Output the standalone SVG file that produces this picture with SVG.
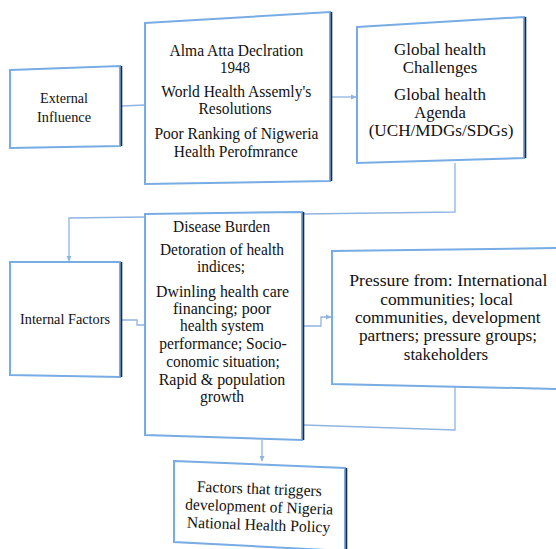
<svg xmlns="http://www.w3.org/2000/svg" width="556" height="549" viewBox="0 0 556 549">
<style>
.box{fill:#fff;stroke:#78ace4;stroke-width:2;stroke-linejoin:miter}
.sh{stroke:#1c2a3c;stroke-width:1.6;fill:none}
.conn{fill:none;stroke:#8fb4e2;stroke-width:1.3}
.t text{font-family:'Liberation Serif','DejaVu Serif',serif;font-size:16px;text-anchor:middle;fill:#111}
.t .s{font-size:15px}
.t .l{font-size:16px}
</style>
<defs>
<marker id="arr" markerUnits="userSpaceOnUse" markerWidth="6" markerHeight="6" refX="5" refY="3" orient="auto">
<path d="M0,0.5 L5.5,3 L0,5.5 z" fill="#8fb4e2"/>
</marker>
</defs>
<rect width="556" height="549" fill="#fff"/>
<g id="connectors">
<path class="conn" d="M121,106 L145,105"/>
<path class="conn" d="M331,97 L356,97" marker-end="url(#arr)"/>
<path class="conn" d="M455,163 V212 L302,214"/>
<path class="conn" d="M145,217 L69,218 V261" marker-end="url(#arr)"/>
<path class="conn" d="M121,320 H137 V325 H145"/>
<path class="conn" d="M303,326 H321 V317 H331" marker-end="url(#arr)"/>
<path class="conn" d="M455,387 V430 L304,425"/>
<path class="conn" d="M262,440 V461" marker-end="url(#arr)"/>
</g>
<g id="external" class="t">
<polygon class="box" points="10,70 120,66 120,146 10,148"/>
<line class="sh" x1="121.5" y1="66" x2="121.5" y2="146"/>
<text class="s" x="64" y="103" textLength="48" lengthAdjust="spacingAndGlyphs">External</text>
<text class="s" x="64" y="122" textLength="54" lengthAdjust="spacingAndGlyphs">Influence</text>
</g>
<g id="alma" class="t">
<polygon class="box" points="145,23 330,12 330,181 145,184"/>
<line class="sh" x1="331.5" y1="12" x2="331.5" y2="181"/>
<text x="236.4" y="56" textLength="133.7" lengthAdjust="spacingAndGlyphs">Alma Atta Declration</text>
<text x="235" y="73" textLength="30" lengthAdjust="spacingAndGlyphs">1948</text>
<text x="236.3" y="97" textLength="150" lengthAdjust="spacingAndGlyphs">World Health Assemly's</text>
<text x="235" y="114" textLength="73" lengthAdjust="spacingAndGlyphs">Resolutions</text>
<text x="236.4" y="139" textLength="164" lengthAdjust="spacingAndGlyphs">Poor Ranking of Nigweria</text>
<text x="235.8" y="157" textLength="124" lengthAdjust="spacingAndGlyphs">Health Perofmrance</text>
</g>
<g id="global" class="t">
<polygon class="box" points="357,27 524,17 524,158 357,163"/>
<line class="sh" x1="525.5" y1="17" x2="525.5" y2="158"/>
<text class="l" x="440" y="55" textLength="92" lengthAdjust="spacingAndGlyphs">Global health</text>
<text class="l" x="440" y="73" textLength="74.5" lengthAdjust="spacingAndGlyphs">Challenges</text>
<text class="l" x="440" y="100" textLength="92" lengthAdjust="spacingAndGlyphs">Global health</text>
<text class="l" x="440" y="118" textLength="51.5" lengthAdjust="spacingAndGlyphs">Agenda</text>
<text class="l" x="441" y="136" textLength="144.7" lengthAdjust="spacingAndGlyphs">(UCH/MDGs/SDGs)</text>
</g>
<g id="internal" class="t">
<polygon class="box" points="10,262 120,262 120,377 10,375"/>
<line class="sh" x1="121.5" y1="262" x2="121.5" y2="377"/>
<text class="s" x="65" y="324" textLength="90" lengthAdjust="spacingAndGlyphs">Internal Factors</text>
</g>
<g id="disease" class="t">
<polygon class="box" points="145,214 302,212 302,440 145,435"/>
<line class="sh" x1="303.5" y1="212" x2="303.5" y2="440"/>
<text x="221.6" y="232" textLength="97" lengthAdjust="spacingAndGlyphs">Disease Burden</text>
<text x="222" y="255" textLength="124" lengthAdjust="spacingAndGlyphs">Detoration of health</text>
<text x="221" y="272" textLength="48" lengthAdjust="spacingAndGlyphs">indices;</text>
<text x="222.5" y="297" textLength="133" lengthAdjust="spacingAndGlyphs">Dwinling  health care</text>
<text x="222" y="314" textLength="98" lengthAdjust="spacingAndGlyphs">financing;  poor</text>
<text x="222" y="331" textLength="84" lengthAdjust="spacingAndGlyphs">health system</text>
<text x="223" y="349" textLength="127.5" lengthAdjust="spacingAndGlyphs">performance; Socio-</text>
<text x="223" y="367" textLength="113.5" lengthAdjust="spacingAndGlyphs">conomic situation;</text>
<text x="222" y="385" textLength="126.5" lengthAdjust="spacingAndGlyphs">Rapid &amp;  population</text>
<text x="222" y="402" textLength="44" lengthAdjust="spacingAndGlyphs">growth</text>
</g>
<g id="pressure" class="t">
<polygon class="box" points="332,251 560,248 560,389 332,384"/>
<text class="l" x="448.3" y="286" textLength="198" lengthAdjust="spacingAndGlyphs">Pressure from:  International</text>
<text class="l" x="446.7" y="305" textLength="133" lengthAdjust="spacingAndGlyphs">communities;  local</text>
<text class="l" x="447.8" y="323" textLength="185.7" lengthAdjust="spacingAndGlyphs">communities, development</text>
<text class="l" x="448" y="341" textLength="178" lengthAdjust="spacingAndGlyphs">partners; pressure groups;</text>
<text class="l" x="446" y="360" textLength="84.3" lengthAdjust="spacingAndGlyphs">stakeholders</text>
</g>
<g id="factors" class="t">
<polygon class="box" points="174,461 345,468 345,551 174,542"/>
<line class="sh" x1="346.5" y1="468" x2="346.5" y2="551"/>
<g transform="rotate(2 259 512)">
<text x="258.5" y="494" textLength="125" lengthAdjust="spacingAndGlyphs">Factors that triggers</text>
<text x="259" y="512" textLength="148" lengthAdjust="spacingAndGlyphs">development of Nigeria</text>
<text x="259" y="530" textLength="143.5" lengthAdjust="spacingAndGlyphs">National Health Policy</text>
</g>
</g>
</svg>
